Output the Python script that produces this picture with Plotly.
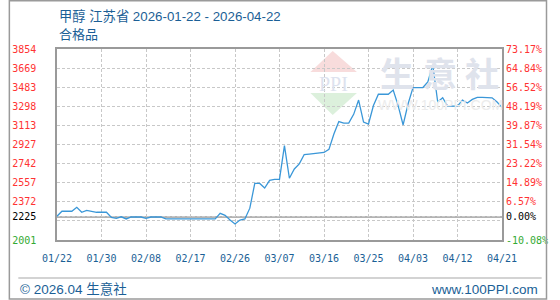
import pandas as pd
import plotly.graph_objects as go

# ---------------- data ----------------
start_date = "2026-01-22"
prices = [
    2232, 2280, 2280, 2280, 2318, 2270, 2289, 2276, 2270, 2270,
    2270, 2220, 2211, 2226, 2205, 2224, 2224, 2224, 2211, 2224,
    2224, 2224, 2205, 2205, 2205, 2205, 2205, 2205, 2205, 2205,
    2205, 2205, 2205, 2260, 2240, 2195, 2156, 2195, 2205, 2310,
    2550, 2550, 2505, 2580, 2590, 2590, 2916, 2600, 2690, 2740,
    2830, 2835, 2840, 2845, 2850, 2880, 3030, 3150, 3135, 3135,
    3220, 3359, 3145, 3126, 3305, 3415, 3415, 3415, 3456, 3305,
    3117, 3320, 3480, 3480, 3480, 3535, 3699, 3340, 3382, 3300,
    3300, 3300, 3359, 3330, 3365, 3385, 3385, 3385, 3380, 3340,
    3288,
]
dates = pd.date_range(start_date, periods=len(prices), freq="D").strftime("%m/%d").tolist()
day_index = list(range(len(prices)))

x_tick_pos = [0, 9, 18, 27, 36, 45, 54, 63, 72, 81, 90]
x_tick_labels = ["01/22", "01/30", "02/08", "02/17", "02/26", "03/07",
                 "03/16", "03/25", "04/03", "04/12", "04/21"]

y_min, y_max = 2001, 3854
base_price = 2225
y_tick_vals = [2001, 2186.3, 2225, 2371.6, 2556.9, 2742.2, 2927.5,
               3112.8, 3298.1, 3483.4, 3668.7, 3854]
y_left_labels = ["2001", "", "2225", "2372", "2557", "2742", "2927",
                 "3113", "3298", "3483", "3669", "3854"]
y_right_labels = ["-10.08%", "", "0.00%", "6.57%", "14.89%", "23.22%",
                  "31.54%", "39.87%", "48.19%", "56.52%", "64.84%", "73.17%"]

title_line1 = "甲醇 江苏省 2026-01-22 - 2026-04-22"
title_line2 = "合格品"
footer_left = "© 2026.04 生意社"
footer_right = "www.100PPI.com"

# ---------------- style ----------------
W, H = 560, 300
L, R, T, B = 50, 510, 49, 240
RED, GREEN, BLACK = "#ff3333", "#33aa33", "#000000"
BLUE_TEXT = "#1b5f96"
MONO = "DejaVu Sans Mono"


def px(xp):
    return (xp - L) / (R - L)


def py(yp):
    return (B - yp) / (B - T)


def colored(lbl, i):
    if lbl == "":
        return ""
    if i == 0:
        c = GREEN
    elif y_tick_vals[i] == base_price:
        c = BLACK
    else:
        c = RED
    return f'<span style="color:{c}">{lbl}</span>'


left_text = [colored(s, i) for i, s in enumerate(y_left_labels)]
right_text = [colored(s, i) for i, s in enumerate(y_right_labels)]

fig = go.Figure()
fig.add_trace(go.Scatter(
    x=day_index, y=prices, mode="lines",
    line=dict(color="#3a97d8", width=1.3),
    customdata=dates, hovertemplate="%{customdata}: %{y}<extra></extra>",
    showlegend=False,
))
fig.add_trace(go.Scatter(
    x=day_index, y=prices, mode="lines", yaxis="y2",
    line=dict(color="rgba(0,0,0,0)", width=0),
    hoverinfo="skip", showlegend=False,
))

grid = dict(showgrid=True, gridcolor="#c8c8c8", gridwidth=1, griddash="3px,2px")

fig.update_layout(
    width=W, height=H,
    margin=dict(l=L, r=W - R, t=T, b=H - B, pad=0),
    paper_bgcolor="white", plot_bgcolor="white",
    xaxis=dict(
        range=[0, len(prices) - 1], tickvals=x_tick_pos, ticktext=x_tick_labels,
        ticks="", tickfont=dict(family=MONO, size=10, color=BLUE_TEXT),
        ticklabelstandoff=8, zeroline=False,
        showline=True, linecolor="#9a9a9a", linewidth=1.5, mirror=True,
        **grid,
    ),
    yaxis=dict(
        range=[y_min, y_max], tickvals=y_tick_vals, ticktext=left_text,
        ticks="", tickfont=dict(family=MONO, size=10, color=RED),
        ticklabelstandoff=17, zeroline=False,
        showline=True, linecolor="#9a9a9a", linewidth=1.5, mirror=True,
        **grid,
    ),
    yaxis2=dict(
        range=[y_min, y_max], tickvals=y_tick_vals, ticktext=right_text,
        overlaying="y", side="right", showgrid=False, zeroline=False,
        ticks="", tickfont=dict(family=MONO, size=10, color=RED),
        ticklabelstandoff=3,
    ),
    hovermode="closest",
)

shapes = []
# baseline at base price
shapes.append(dict(type="line", xref="paper", yref="y", x0=0, x1=1,
                   y0=base_price, y1=base_price,
                   line=dict(color="#9a9a9a", width=1.5), layer="between"))
# outer frame
shapes.append(dict(type="rect", xref="paper", yref="paper",
                   x0=px(0.75), x1=px(556), y0=py(0.75), y1=py(299),
                   line=dict(color="#9a9a9a", width=1.5), layer="above"))
# footer separator
shapes.append(dict(type="line", xref="paper", yref="paper",
                   x0=px(10), x1=px(551), y0=py(278), y1=py(278),
                   line=dict(color="#a8a8a8", width=1.2)))
# watermark logo: pink triangle, green inverted triangle
shapes.append(dict(type="path", xref="paper", yref="paper", layer="below",
                   path=f"M {px(312)},{py(72)} L {px(335)},{py(51)} L {px(360)},{py(72)} Z",
                   fillcolor="#f8dcdc", line=dict(width=0)))
shapes.append(dict(type="path", xref="paper", yref="paper", layer="below",
                   path=f"M {px(312)},{py(93)} L {px(335)},{py(115)} L {px(360)},{py(93)} Z",
                   fillcolor="#dcf0dc", line=dict(width=0)))
fig.update_layout(shapes=shapes)

ann = []
ann.append(dict(text=title_line1, xref="paper", yref="paper", x=px(50), y=py(15.5),
                xanchor="left", yanchor="middle", showarrow=False,
                font=dict(family="Liberation Sans, Noto Sans CJK SC", size=13.3, color=BLUE_TEXT)))
ann.append(dict(text=title_line2, xref="paper", yref="paper", x=px(50), y=py(33.5),
                xanchor="left", yanchor="middle", showarrow=False,
                font=dict(family="Noto Sans CJK SC", size=13, color=BLUE_TEXT)))
ann.append(dict(text=footer_left, xref="paper", yref="paper", x=px(10), y=py(289),
                xanchor="left", yanchor="middle", showarrow=False,
                font=dict(family="Liberation Sans, Noto Sans CJK SC", size=13.5, color=BLUE_TEXT)))
ann.append(dict(text=footer_right, xref="paper", yref="paper", x=px(549), y=py(289),
                xanchor="right", yanchor="middle", showarrow=False,
                font=dict(family="Liberation Sans", size=13.5, color=BLUE_TEXT)))
# watermark texts
ann.append(dict(text="PPI", xref="paper", yref="paper", x=px(336), y=py(83.5),
                xanchor="center", yanchor="middle", showarrow=False,
                font=dict(family="Liberation Serif", size=20, color="#dde2ee")))
for ch, cx in zip("生意社", [401, 446, 489]):
    ann.append(dict(text=f"<b>{ch}</b>", xref="paper", yref="paper", x=px(cx), y=py(72),
                    xanchor="center", yanchor="middle", showarrow=False,
                    font=dict(family="Noto Sans CJK SC", size=34, color="#dfe3ec")))
ann.append(dict(text="WWW.100PPI.COM", xref="paper", yref="paper", x=px(446), y=py(105),
                xanchor="center", yanchor="middle", showarrow=False,
                font=dict(family="Liberation Sans", size=14, color="#ececec")))
fig.update_layout(annotations=ann)

fig.write_html("out.html", config={"displayModeBar": False})
